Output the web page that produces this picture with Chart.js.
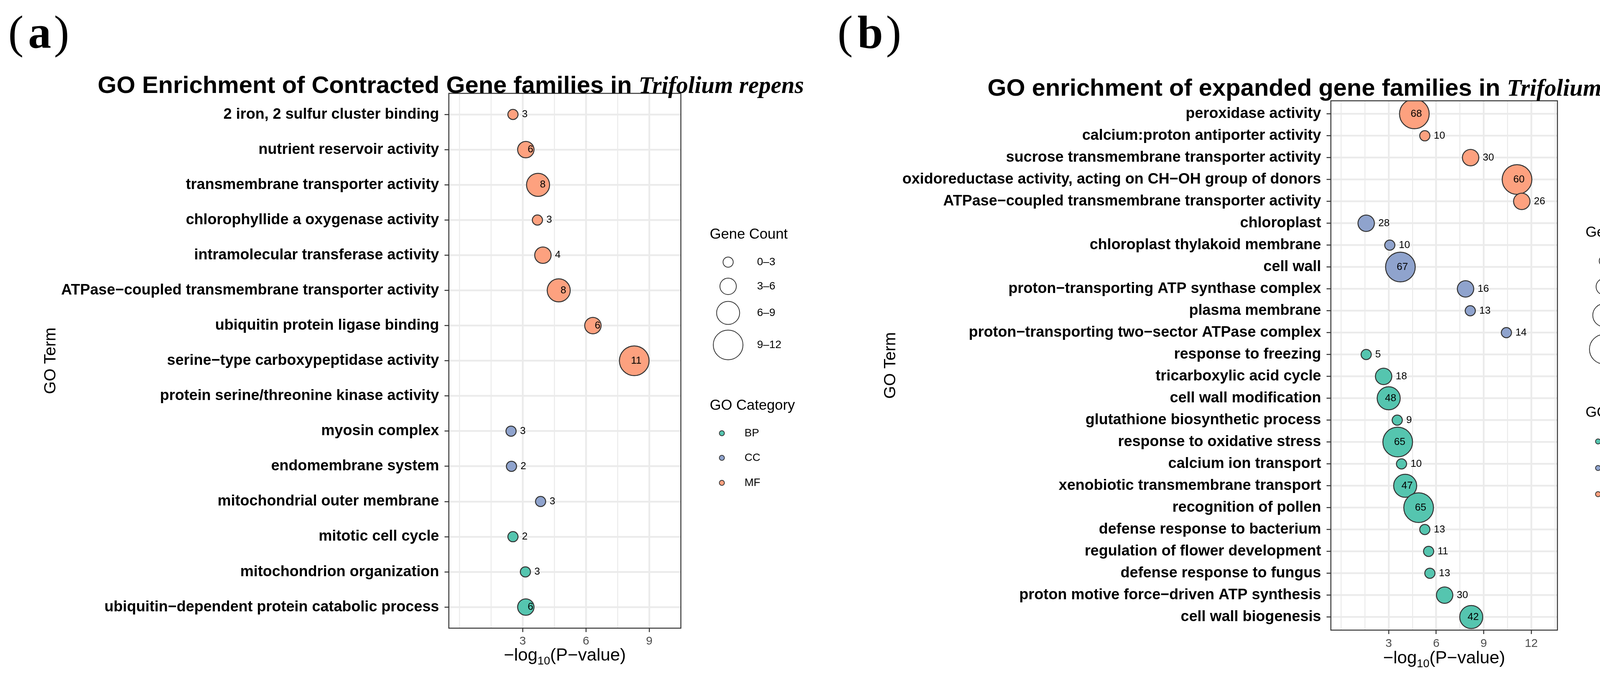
<!DOCTYPE html>
<html>
<head>
<meta charset="utf-8">
<script src="https://cdn.jsdelivr.net/npm/chart.js@4.4.1/dist/chart.umd.min.js"></script>
<style>
  html, body { margin: 0; padding: 0; background: #fff; }
  body { width: 4304px; height: 1733px; position: relative; overflow: hidden; }
  canvas { position: absolute; top: 0; }
  #chartA { left: 0; }
  #chartB { left: 2100px; }
</style>
</head>
<body>
<canvas id="chartA" width="2100" height="1733"></canvas>
<canvas id="chartB" width="2204" height="1733"></canvas>
<script>
/* GO enrichment bubble plots (contracted / expanded gene families), two Chart.js panels. */

/* ---------- data: panel (a) contracted ---------- */
const termsA = [
  "2 iron, 2 sulfur cluster binding",
  "nutrient reservoir activity",
  "transmembrane transporter activity",
  "chlorophyllide a oxygenase activity",
  "intramolecular transferase activity",
  "ATPase−coupled transmembrane transporter activity",
  "ubiquitin protein ligase binding",
  "serine−type carboxypeptidase activity",
  "protein serine/threonine kinase activity",
  "myosin complex",
  "endomembrane system",
  "mitochondrial outer membrane",
  "mitotic cell cycle",
  "mitochondrion organization",
  "ubiquitin−dependent protein catabolic process",
];
const pvalA  = [2.54, 3.15, 3.73, 3.70, 3.96, 4.71, 6.33, 8.29, null, 2.45, 2.47, 3.85, 2.54, 3.13, 3.15];
const countA = [3, 6, 8, 3, 4, 8, 6, 11, null, 3, 2, 3, 2, 3, 6];
const catA   = ["MF", "MF", "MF", "MF", "MF", "MF", "MF", "MF", "MF", "CC", "CC", "CC", "BP", "BP", "BP"];
const sizeBreaksA = [0, 3, 6, 9, 12];
const sizeLabelsA = ["0–3", "3–6", "6–9", "9–12"];
const xTicksA = [3, 6, 9];
const xMinorA = [0, 1.5, 4.5, 7.5];

/* ---------- data: panel (b) expanded ---------- */
const termsB = [
  "peroxidase activity",
  "calcium:proton antiporter activity",
  "sucrose transmembrane transporter activity",
  "oxidoreductase activity, acting on CH−OH group of donors",
  "ATPase−coupled transmembrane transporter activity",
  "chloroplast",
  "chloroplast thylakoid membrane",
  "cell wall",
  "proton−transporting ATP synthase complex",
  "plasma membrane",
  "proton−transporting two−sector ATPase complex",
  "response to freezing",
  "tricarboxylic acid cycle",
  "cell wall modification",
  "glutathione biosynthetic process",
  "response to oxidative stress",
  "calcium ion transport",
  "xenobiotic transmembrane transport",
  "recognition of pollen",
  "defense response to bacterium",
  "regulation of flower development",
  "defense response to fungus",
  "proton motive force−driven ATP synthesis",
  "cell wall biogenesis",
];
const pvalB  = [4.62, 5.28, 8.17, 11.1, 11.4, 1.58, 3.07, 3.74, 7.85, 8.15, 10.43, 1.58,
                2.68, 3.0, 3.54, 3.57, 3.81, 4.04, 4.89, 5.28, 5.52, 5.6, 6.53, 8.21];
const countB = [68, 10, 30, 60, 26, 28, 10, 67, 16, 13, 14, 5, 18, 48, 9, 65, 10, 47, 65, 13, 11, 13, 30, 42];
const catB   = ["MF", "MF", "MF", "MF", "MF", "CC", "CC", "CC", "CC", "CC", "CC",
                "BP", "BP", "BP", "BP", "BP", "BP", "BP", "BP", "BP", "BP", "BP", "BP", "BP"];
const sizeBreaksB = [0, 15, 30, 50, 70];
const sizeLabelsB = ["0–15", "15–30", "30–50", "50–70"];
const xTicksB = [3, 6, 9, 12];
const xMinorB = [0, 1.5, 4.5, 7.5, 10.5, 13.5];

const CATS = ["BP", "CC", "MF"];

/* ---------- style ---------- */
const CAT_COLORS = { BP: "#55C5AF", CC: "#8FA3CD", MF: "#FDA17F" };
const RADII = [13, 21, 29.5, 38];          // bubble radius per size bin (px)
const SANS = "'Liberation Sans', Arial, sans-serif";
const SERIF = "'Liberation Serif', 'Times New Roman', serif";
const H = 1733;

Chart.defaults.font.family = SANS;
Chart.defaults.color = "#000";

const PANEL_A = {
  off: 0, width: 2100,
  area: { left: 1149, right: 1743, top: 239, bottom: 1608 },
  xMin: -0.5, xMax: 10.5,
  title: { x: 250, y: 238, text: "GO Enrichment of Contracted Gene families in ", species: "Trifolium repens" },
  tag: { y: 122, glyphs: [["(", 21, false], ["a", 72, true], [")", 138, false]] },
  goTermX: 130, xTitleY: 1691, tickPad: 6,
  sizeLegend: { x: 1817, titleY: 601, cx: 1864, lx: 1938, ys: [671, 733, 801, 883] },
  catLegend: { titleY: 1039, cx: 1848, lx: 1906, ys: [1109, 1172, 1236] },
  insideMin: 6,
};
const PANEL_B = {
  off: 2100, width: 2204,
  area: { left: 3407, right: 3987, top: 258, bottom: 1613 },
  xMin: -0.65, xMax: 13.65,
  title: { x: 2528, y: 245, text: "GO enrichment of expanded gene families in ", species: "Trifolium repens" },
  tag: { y: 122, glyphs: [["(", 2144, false], ["b", 2195, true], [")", 2268, false]] },
  goTermX: 2280, xTitleY: 1698, tickPad: 7,
  sizeLegend: { x: 4059, titleY: 596, cx: 4107, lx: 4179, ys: [668, 734, 807, 894] },
  catLegend: { titleY: 1057, cx: 4091, lx: 4149, ys: [1130, 1198, 1265] },
  insideMin: 42,
};

function binOf(n, breaks) {
  for (let i = 0; i < breaks.length - 2; i++) if (n <= breaks[i + 1]) return i;
  return breaks.length - 2;
}

/* ---------- decorations: count labels, frame, titles, legends ---------- */
const decor = {
  id: "goDecor",
  afterDraw(chart, _args, o) {
    const { ctx, chartArea: a } = chart;
    const P = o.panel, off = P.off;
    ctx.save();

    // gene count next to / inside each bubble
    ctx.font = `26px ${SANS}`;
    ctx.fillStyle = "#000";
    ctx.textBaseline = "middle";
    chart.data.datasets.forEach((ds, di) => {
      chart.getDatasetMeta(di).data.forEach((el, i) => {
        const n = ds.data[i].count, txt = String(n), r = el.options.radius;
        if (n >= P.insideMin) {
          ctx.textAlign = "center";
          ctx.fillText(txt, el.x + (txt.length > 1 ? 5 : 12), el.y);
        } else {
          ctx.textAlign = "left";
          ctx.fillText(txt, el.x + r + 10, el.y);
        }
      });
    });

    // panel border (theme_bw)
    ctx.strokeStyle = "#333";
    ctx.lineWidth = 2.5;
    ctx.strokeRect(a.left, a.top, a.right - a.left, a.bottom - a.top);

    // x axis title with subscript
    const parts = [["−log", 45, 0], ["10", 29, 10], ["(P−value)", 45, 0]];
    let total = 0;
    for (const p of parts) { ctx.font = `${p[1]}px ${SANS}`; p.push(ctx.measureText(p[0]).width); total += p[3]; }
    let x = (a.left + a.right) / 2 - total / 2;
    ctx.textAlign = "left";
    ctx.textBaseline = "alphabetic";
    for (const p of parts) {
      ctx.font = `${p[1]}px ${SANS}`;
      ctx.fillText(p[0], x, P.xTitleY + p[2]);
      x += p[3];
    }

    // plot title: bold sans + bold italic species name
    const T = P.title;
    ctx.font = `bold 62px ${SANS}`;
    ctx.fillText(T.text, T.x - off, T.y);
    const tw = ctx.measureText(T.text).width;
    ctx.font = `italic bold 61px ${SERIF}`;
    ctx.fillText(T.species, T.x - off + tw, T.y);

    // panel tag (a)/(b)
    for (const [ch, gx, bold] of P.tag.glyphs) {
      ctx.font = `${bold ? "bold " : ""}118px ${SERIF}`;
      ctx.fillText(ch, gx - off, P.tag.y);
    }

    // size legend
    const L = P.sizeLegend;
    ctx.textBaseline = "middle";
    ctx.font = `37px ${SANS}`;
    ctx.fillText("Gene Count", L.x - off, L.titleY);
    L.ys.forEach((y, i) => {
      ctx.beginPath();
      ctx.arc(L.cx - off, y, RADII[i], 0, Math.PI * 2);
      ctx.fillStyle = "#fff";
      ctx.fill();
      ctx.lineWidth = 2;
      ctx.strokeStyle = "#333";
      ctx.stroke();
      ctx.fillStyle = "#000";
      ctx.font = `28px ${SANS}`;
      ctx.fillText(o.sizeLabels[i], L.lx - off, y);
    });

    // category legend
    const C = P.catLegend;
    ctx.font = `37px ${SANS}`;
    ctx.fillText("GO Category", L.x - off, C.titleY);
    C.ys.forEach((y, i) => {
      ctx.beginPath();
      ctx.arc(C.cx - off, y, 6.5, 0, Math.PI * 2);
      ctx.fillStyle = CAT_COLORS[CATS[i]];
      ctx.fill();
      ctx.lineWidth = 2;
      ctx.strokeStyle = "#333";
      ctx.stroke();
      ctx.fillStyle = "#000";
      ctx.font = `28px ${SANS}`;
      ctx.fillText(CATS[i], C.lx - off, y);
    });

    ctx.restore();
  },
};

function makePanel(id, P, terms, pval, count, cat, breaks, sizeLabels, xTicks, xMinor) {
  const datasets = CATS.map((c) => ({
    label: c,
    data: pval
      .map((x, i) => ({ x, y: i, count: count[i], cat: cat[i] }))
      .filter((d) => d.cat === c && d.x != null)
      .map((d) => ({ ...d, r: RADII[binOf(d.count, breaks)] })),
    backgroundColor: CAT_COLORS[c],
    borderColor: "#333",
    borderWidth: 2.5,
    clip: 0,
  }));
  const isMajor = (v) => xTicks.includes(v);
  const titleLH = 42 * 1.2;

  return new Chart(document.getElementById(id), {
    type: "bubble",
    data: { datasets },
    options: {
      responsive: false, animation: false, devicePixelRatio: 1, events: [],
      layout: { padding: { left: 0, top: P.area.top, right: P.width - (P.area.right - P.off), bottom: 0 } },
      scales: {
        x: {
          type: "linear", position: "bottom", min: P.xMin, max: P.xMax,
          afterBuildTicks: (s) => { s.ticks = [...xMinor, ...xTicks].sort((a, b) => a - b).map((v) => ({ value: v })); },
          afterFit: (s) => { s.height = H - P.area.bottom; },
          ticks: {
            autoSkip: false, maxRotation: 0, padding: P.tickPad, color: "#4D4D4D", font: { size: 30 },
            callback: (v) => (isMajor(v) ? String(v) : ""),
          },
          grid: {
            color: "#EBEBEB",
            lineWidth: (c) => (c.tick && isMajor(c.tick.value) ? 4.5 : 2.5),
            tickColor: (c) => (c.tick && isMajor(c.tick.value) ? "#333" : "rgba(0,0,0,0)"),
            tickLength: 10, tickWidth: 2.5,
          },
          border: { display: false },
        },
        y: {
          type: "linear", position: "left", reverse: true, min: -0.6, max: terms.length - 0.4,
          afterBuildTicks: (s) => { s.ticks = terms.map((_, i) => ({ value: i })); },
          afterFit: (s) => { s.width = P.area.left - P.off; },
          ticks: { autoSkip: false, padding: 14, color: "#000", font: { size: 38.5, weight: "bold" }, callback: (v) => terms[v] },
          grid: { color: "#EBEBEB", lineWidth: 4.5, tickColor: "#333", tickLength: 11, tickWidth: 2.5 },
          border: { display: false },
          title: {
            display: true, text: "GO Term", color: "#000", font: { size: 42 },
            padding: { top: P.goTermX - P.off - titleLH / 2, bottom: 0 },
          },
        },
      },
      plugins: {
        legend: { display: false },
        tooltip: { enabled: false },
        goDecor: { panel: P, sizeLabels },
      },
    },
    plugins: [decor],
  });
}

makePanel("chartA", PANEL_A, termsA, pvalA, countA, catA, sizeBreaksA, sizeLabelsA, xTicksA, xMinorA);
makePanel("chartB", PANEL_B, termsB, pvalB, countB, catB, sizeBreaksB, sizeLabelsB, xTicksB, xMinorB);
</script>
</body>
</html>
